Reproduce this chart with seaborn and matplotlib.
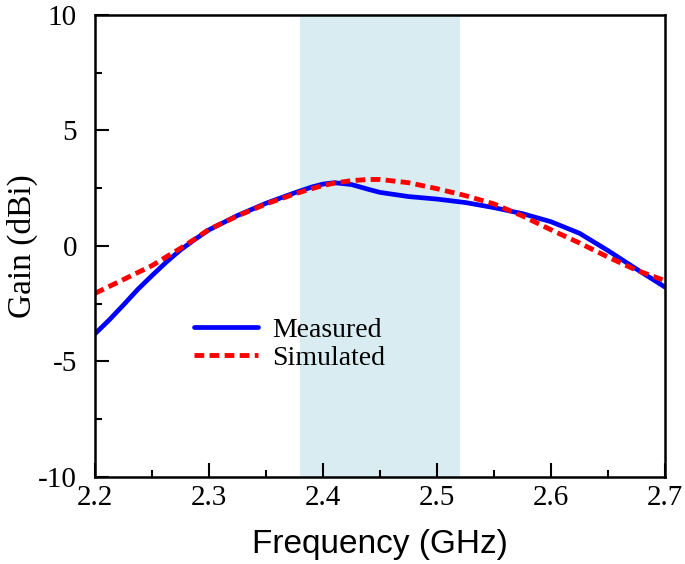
import numpy as np
import pandas as pd
import matplotlib
matplotlib.use('Agg')
import matplotlib.pyplot as plt
from matplotlib.ticker import MultipleLocator
import seaborn as sns

# Frequency points (GHz)
freq = [2.200, 2.2125, 2.225, 2.2375, 2.250, 2.2625, 2.275, 2.2875, 2.300,
        2.325, 2.350, 2.375, 2.390, 2.400, 2.410, 2.425, 2.440, 2.450, 2.475,
        2.500, 2.525, 2.550, 2.575, 2.600, 2.625, 2.650, 2.675, 2.700]

# Gain values (dBi)
measured = [-3.8, -3.2, -2.55, -1.88, -1.28, -0.7, -0.17, 0.28, 0.7,
            1.32, 1.85, 2.3, 2.55, 2.68, 2.74, 2.66, 2.45, 2.32, 2.14,
            2.03, 1.88, 1.66, 1.4, 1.05, 0.55, -0.2, -1.0, -1.78]
simulated = [-2.05, -1.75, -1.45, -1.15, -0.85, -0.47, -0.1, 0.3, 0.72,
             1.3, 1.82, 2.25, 2.48, 2.62, 2.72, 2.83, 2.88, 2.88, 2.74,
             2.48, 2.18, 1.82, 1.3, 0.7, 0.13, -0.48, -1.05, -1.5]

# Operating band
band = [2.38, 2.52]

df = pd.DataFrame({'freq': freq, 'Measured': measured, 'Simulated': simulated})

sns.set_style('ticks')
plt.rcParams['font.family'] = ['Liberation Serif', 'DejaVu Serif']
plt.rcParams['text.color'] = 'black'
plt.rcParams['axes.labelcolor'] = 'black'
plt.rcParams['xtick.color'] = 'black'
plt.rcParams['ytick.color'] = 'black'

fig = plt.figure(figsize=(6.85, 5.64), dpi=100)
ax = fig.add_axes([0.1387, 0.1543, 0.8321, 0.8191])

ax.axvspan(band[0], band[1], color='#d9ecf2', zorder=0, lw=0)

sns.lineplot(data=df, x='freq', y='Measured', ax=ax, color='#0000ff', lw=3.4,
             label='Measured')
sns.lineplot(data=df, x='freq', y='Simulated', ax=ax, color='#ff0000', lw=3.5,
             label='Simulated')
for ln in ax.lines:
    ln.set_solid_joinstyle('round')
    ln.set_solid_capstyle('round')
ax.lines[1].set_dashes([2.0, 1.1])

ax.set_xlim(2.2, 2.7)
ax.set_ylim(-10, 10)
ax.xaxis.set_minor_locator(MultipleLocator(0.05))
ax.yaxis.set_minor_locator(MultipleLocator(2.5))
ax.set_xticks([2.2, 2.3, 2.4, 2.5, 2.6, 2.7])
ax.set_xticklabels(['2.2', '2.3', '2.4', '2.5', '2.6', '2.7'])
ax.set_yticks([-10, -5, 0, 5, 10])
ax.set_yticklabels(['-10', '-5', '0', '5', '10'])

ax.tick_params(which='major', direction='in', length=10, width=1.5,
               labelsize=21, top=False, right=False)
ax.tick_params(which='minor', direction='in', length=5, width=1.5,
               top=False, right=False)
ax.tick_params(axis='y', which='major', pad=13)
ax.tick_params(axis='x', which='major', pad=6)
for s in ax.spines.values():
    s.set_linewidth(1.8)
    s.set_color('black')

ax.set_xlabel('Frequency (GHz)', fontsize=24, labelpad=13,
              family=['Liberation Sans', 'DejaVu Sans'])
ax.set_ylabel('Gain (dBi)', fontsize=24, labelpad=0)

leg = ax.legend(loc='upper left', bbox_to_anchor=(0.155, 0.37), frameon=False,
                fontsize=20, handlelength=2.3, handletextpad=0.5,
                labelspacing=0.1, borderaxespad=0)

fig.savefig('out.png', dpi=100)
